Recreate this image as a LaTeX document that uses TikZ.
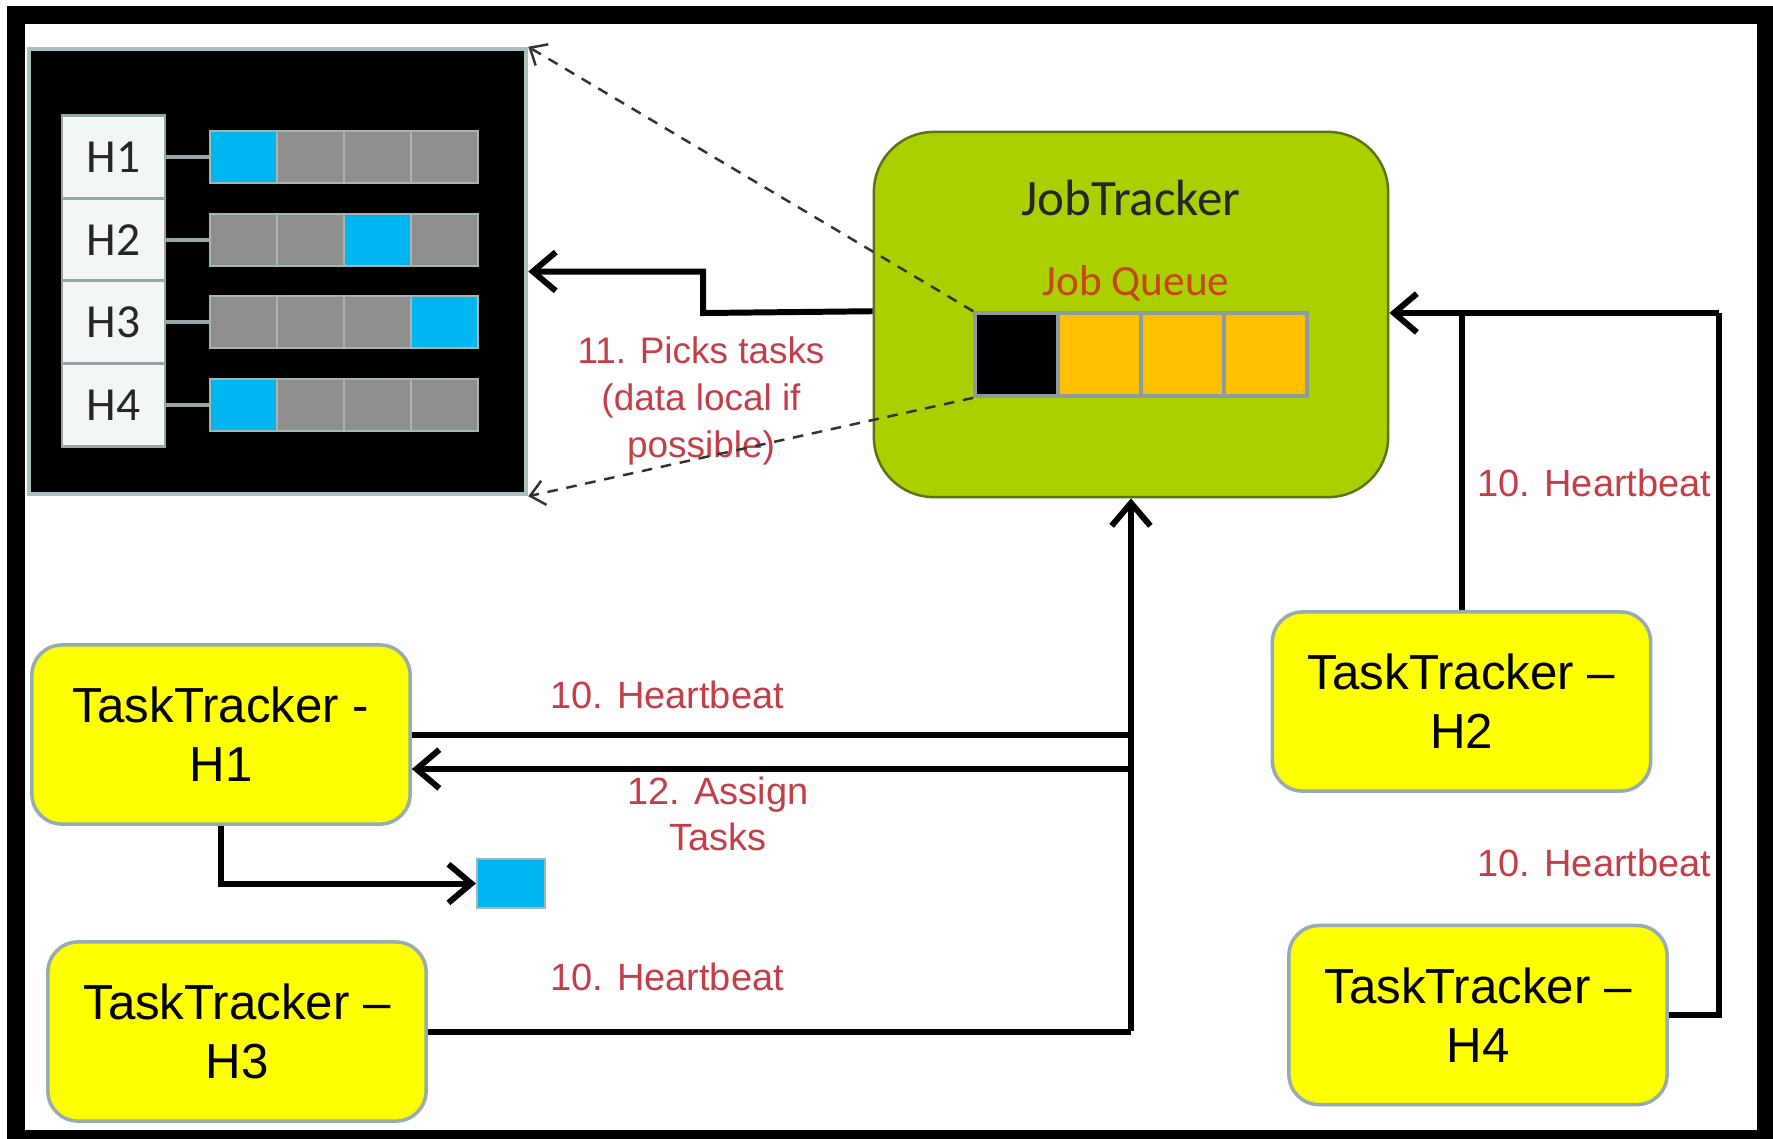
\documentclass[tikz,border=0pt]{standalone}
\usepackage{fontspec}
\setmainfont{Liberation Sans}
\newfontfamily\calib{Carlito}
\usetikzlibrary{arrows.meta}

\definecolor{ttyellow}{RGB}{255,255,0}
\definecolor{ttedge}{RGB}{150,172,176}
\definecolor{jtgreen}{RGB}{170,208,0}
\definecolor{jtedge}{RGB}{90,115,20}
\definecolor{labred}{RGB}{196,62,72}
\definecolor{queuered}{RGB}{198,70,24}
\definecolor{qyellow}{RGB}{255,192,0}
\definecolor{qedge}{RGB}{140,156,160}
\definecolor{cellgray}{RGB}{142,142,142}
\definecolor{cellblue}{RGB}{0,182,240}
\definecolor{celledge}{RGB}{165,180,180}
\definecolor{hfill}{RGB}{242,246,246}
\definecolor{hedge}{RGB}{150,165,165}
\definecolor{paneledge}{RGB}{170,192,192}
\definecolor{dashgray}{RGB}{50,50,50}

\begin{document}
\begin{tikzpicture}[
  x=0.01cm, y=-0.01cm,
  tracker/.style={fill=ttyellow, draw=ttedge, line width=1pt, rounded corners=0.3cm,
    align=center, inner sep=0pt, font=\fontsize{14}{16.8}\selectfont,
    minimum width=3.78cm, minimum height=1.79cm},
  hbox/.style={fill=hfill, draw=hedge, line width=0.8pt, inner sep=0pt,
    minimum width=1.03cm, minimum height=0.83cm,
    font=\calib\fontsize{13.5}{16}\selectfont, text={black!85}},
  cell/.style={draw=celledge, line width=0.6pt, inner sep=0pt,
    minimum width=0.67cm, minimum height=0.52cm},
  qcell/.style={draw=qedge, line width=1pt, inner sep=0pt,
    minimum width=0.83cm, minimum height=0.83cm},
  hlink/.style={draw=hedge, line width=0.9pt},
  conn/.style={line width=1.7pt, black},
  tip/.style={-{Straight Barb[length=6.5pt,width=11pt]}},
  pick/.style={line width=0.7pt, dashgray, dash pattern=on 3pt off 2.5pt,
    -{Straight Barb[length=4pt,width=7pt]}},
  lbl/.style={text=labred, inner sep=0pt, align=center,
    font=\fontsize{10.8}{13.2}\selectfont}
]
\clip (0,0) rectangle (1773,1138);
\fill[white] (0,0) rectangle (1773,1138);
\draw[line width=5.1pt] (16,15) rectangle (1766,1139);

% host table
\node[fill=black, draw=paneledge, line width=1.2pt, minimum width=4.97cm,
  minimum height=4.45cm, inner sep=0pt] (panel) at (277.5,271.5) {};
\foreach \r/\y/\b in {1/157/1, 2/240/3, 3/322/4, 4/405/1} {
  \node[hbox] (h\r) at (113.5,\y) {H\r};
  \foreach \c in {1,...,4} {
    \ifnum\c=\b\def\cf{cellblue}\else\def\cf{cellgray}\fi
    \node[cell, fill=\cf] (c\r\c) at ({176.5+67*\c},\y) {};
  }
  \draw[hlink] (h\r.east) -- (c\r1.west);
}

% job tracker with its queue
\node[fill=jtgreen, draw=jtedge, line width=0.7pt, rounded corners=0.6cm,
  minimum width=5.14cm, minimum height=3.65cm, inner sep=0pt] (jt) at (1131,314.5) {};
\node[font=\calib\fontsize{14.5}{17}\selectfont, text={black!85}] (jtname) at (1131,198) {JobTracker};
\node[font=\calib\fontsize{12.3}{15}\selectfont, text=queuered] (jqname) at (1136,283) {Job Queue};
\node[qcell, fill=black] (q1) at (1016.5,354.5) {};
\node[qcell, fill=qyellow] (q2) at (1099.5,354.5) {};
\node[qcell, fill=qyellow] (q3) at (1182.5,354.5) {};
\node[qcell, fill=qyellow] (q4) at (1265.5,354.5) {};

% task trackers
\node[tracker] (t1) at (221,734.5) {TaskTracker -\\H1};
\node[tracker] (t2) at (1461.5,701.5) {TaskTracker –\\H2};
\node[tracker] (t3) at (237,1031.5) {TaskTracker –\\H3};
\node[tracker] (t4) at (1478,1015) {TaskTracker –\\H4};
\node[fill=cellblue, draw=celledge, line width=0.6pt, minimum width=0.68cm,
  minimum height=0.49cm, inner sep=0pt] (task) at (511,883.5) {};

% labels
\node[lbl, font=\fontsize{10.5}{13.4}\selectfont] (lpick) at (701,401)
  {11. Picks tasks\\(data local if\\possible)};
\node[lbl] (lhb1) at (667,695) {10. Heartbeat};
\node[lbl] (lasg) at (718,814) {12. Assign\\Tasks};
\node[lbl] (lhb3) at (667,977) {10. Heartbeat};
\node[lbl, anchor=east] (lhb2) at (1712,483) {10. Heartbeat};
\node[lbl, anchor=east] (lhb4) at (1712,863) {10. Heartbeat};

% picking tasks from the queue
\draw[pick] (q1.north west) -- (panel.north east);
\draw[pick] (q1.south west) -- (panel.south east);
\draw[conn, tip] (jt.west |- q1.north) -- (703,313) |- (panel.east);

% heartbeats from H2 and H4
\coordinate (rc) at (1719,313);
\draw[conn, tip] (rc) -- (jt.east |- rc);
\draw[conn] (t2.north) -- (t2.north |- rc);
\draw[conn] (t4.east) -| (rc);

% heartbeats from H1 and H3, task assignment
\coordinate (bj) at (1131,1031);
\coordinate (asg) at (1131,769);
\draw[conn, tip] (bj) -- (jt.south);
\draw[conn] (t3.east) -- (t3.east -| bj);
\draw[conn] (t1.east) -- (t1.east -| bj);
\draw[conn, tip] (asg) -- (asg -| t1.east);
\draw[conn, tip] (t1.south) |- (task.west);
\end{tikzpicture}
\end{document}
